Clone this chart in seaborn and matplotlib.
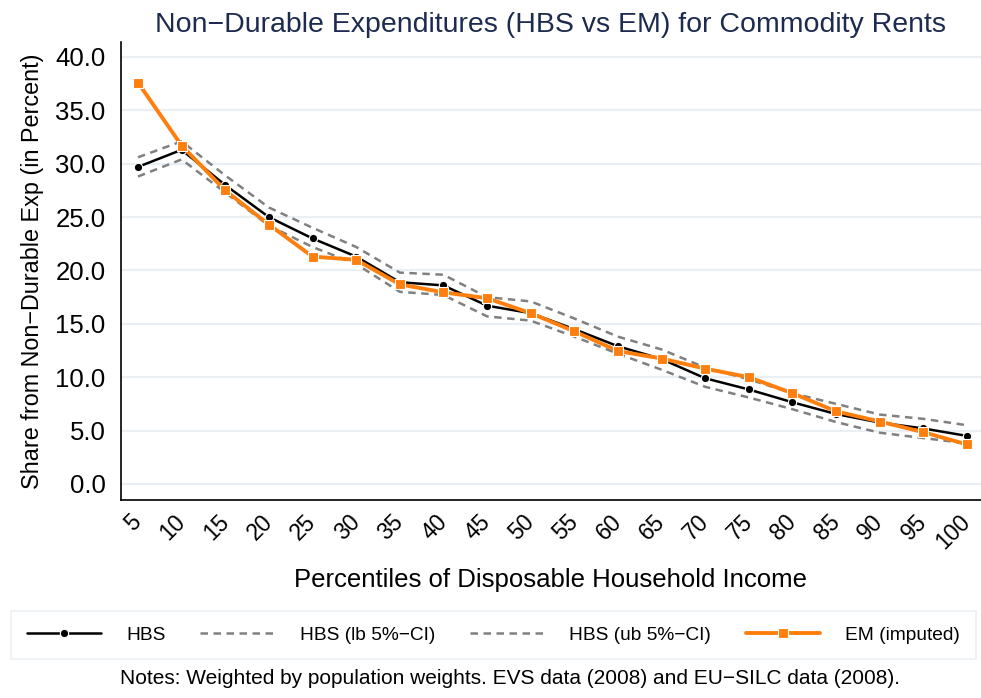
import numpy as np
import pandas as pd
import matplotlib
matplotlib.use("Agg")
import matplotlib.pyplot as plt
import seaborn as sns

percentiles = [5, 10, 15, 20, 25, 30, 35, 40, 45, 50, 55, 60, 65, 70, 75, 80, 85, 90, 95, 100]
hbs = [29.7, 31.3, 28.0, 25.0, 23.0, 21.3, 18.9, 18.6, 16.7, 16.0, 14.5, 12.9, 11.7, 9.9, 8.85, 7.65, 6.55, 5.75, 5.2, 4.5]
hbs_lb = [28.8, 30.4, 27.3, 24.2, 22.2, 20.6, 18.0, 17.7, 15.7, 15.3, 13.8, 12.2, 10.7, 9.1, 8.1, 7.0, 5.8, 4.8, 4.3, 3.8]
hbs_ub = [30.6, 32.1, 28.9, 25.9, 24.0, 22.2, 19.8, 19.6, 17.5, 17.1, 15.5, 13.8, 12.6, 10.9, 9.8, 8.5, 7.5, 6.5, 6.1, 5.5]
em = [37.6, 31.7, 27.5, 24.3, 21.3, 21.0, 18.7, 17.95, 17.4, 16.0, 14.3, 12.45, 11.75, 10.8, 10.0, 8.5, 6.8, 5.85, 4.85, 3.7]
y_ticks = [0, 5, 10, 15, 20, 25, 30, 35, 40]

labels = ["HBS", "HBS (lb 5%\u2212CI)", "HBS (ub 5%\u2212CI)", "EM (imputed)"]

sns.set_style("white")
plt.rcParams['font.family'] = ['Liberation Sans', 'DejaVu Sans']
plt.rcParams['axes.unicode_minus'] = True
for k in ["text.color", "axes.labelcolor", "xtick.color", "ytick.color"]:
    plt.rcParams[k] = "black"

fig = plt.figure(figsize=(9.81, 6.98), dpi=100)
ax = fig.add_axes([0.1233, 0.2837, 0.8767, 0.6561])

df = pd.DataFrame({"p": percentiles, "hbs": hbs, "lb": hbs_lb, "ub": hbs_ub, "em": em})

sns.lineplot(data=df, x="p", y="lb", ax=ax, color="#808080", lw=1.8,
             linestyle=(0, (3, 2.2)), label=labels[1], zorder=2)
sns.lineplot(data=df, x="p", y="ub", ax=ax, color="#808080", lw=1.8,
             linestyle=(0, (3, 2.2)), label=labels[2], zorder=2)
sns.lineplot(data=df, x="p", y="hbs", ax=ax, color="black", lw=1.8,
             marker="o", markersize=6, markeredgecolor="white", markeredgewidth=0.8,
             label=labels[0], zorder=3)
sns.lineplot(data=df, x="p", y="em", ax=ax, color="#ff7f0e", lw=2.8,
             marker="s", markersize=6.5, markeredgecolor="white", markeredgewidth=0.8,
             label=labels[3], zorder=4)

ax.set_xlim(3.05, 101.6)
ax.set_ylim(-1.5, 41.4)
ax.set_xticks(percentiles)
ax.set_xticklabels([str(p) for p in percentiles], rotation=45, fontsize=16.5)
ax.set_yticks(y_ticks)
ax.set_yticklabels([f"{v:.1f}" for v in y_ticks], fontsize=18.5)
ax.yaxis.grid(True, color="#e9eff3", lw=1.6)
ax.xaxis.grid(False)
for s in ["top", "right"]:
    ax.spines[s].set_visible(False)
for s in ["left", "bottom"]:
    ax.spines[s].set_color("black")
    ax.spines[s].set_linewidth(1.2)
ax.tick_params(axis="both", direction="out", length=7, width=1.2, color="black", pad=4)
ax.tick_params(axis="x", pad=6)
for lab in ax.get_xticklabels():
    lab.set_ha("right")
    lab.set_va("center")
    lab.set_rotation_mode("anchor")

ax.set_xlabel("Percentiles of Disposable Household Income", fontsize=18.5, labelpad=11)
ax.set_ylabel("Share from Non\u2212Durable Exp (in Percent)", fontsize=16.8, labelpad=8)
ax.set_title("Non\u2212Durable Expenditures (HBS vs EM) for Commodity Rents",
             fontsize=20.5, color="#1c2b4f", pad=7)

h, l = ax.get_legend_handles_labels()
order = [l.index(x) for x in labels]
ax.get_legend().remove()
leg = fig.legend([h[i] for i in order], [l[i] for i in order], ncol=4,
                 loc="center", bbox_to_anchor=(0.503, 0.09), bbox_transform=fig.transFigure,
                 fontsize=13.8, frameon=True, fancybox=False, edgecolor="#e6ecef",
                 handlelength=3.9, columnspacing=1.8, handletextpad=1.3,
                 borderpad=0.8)
leg.get_frame().set_linewidth(1.2)

fig.text(0.52, 0.028, "Notes: Weighted by population weights. EVS data (2008) and EU\u2212SILC data (2008).",
         ha="center", va="center", fontsize=15)

fig.savefig("out.png", dpi=100)
